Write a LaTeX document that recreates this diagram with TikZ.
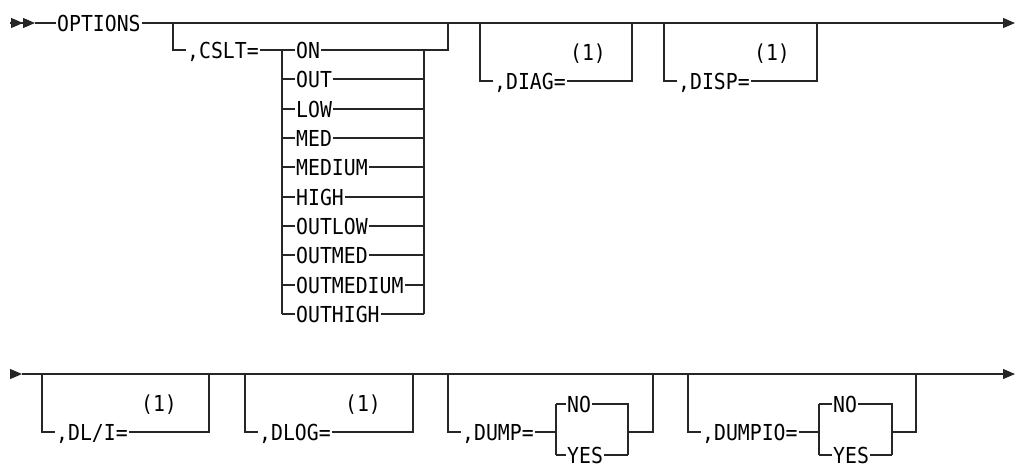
\documentclass[tikz,border=0pt]{standalone}
\usepackage{fontspec}
\setmonofont[FakeStretch=0.9]{DejaVu Sans Mono}
\usetikzlibrary{arrows.meta}

\tikzset{
  kw/.style={inner sep=1pt, text height=16pt, text depth=0pt,
    font=\ttfamily\fontsize{22}{26}\selectfont},
  rail/.style={line width=1.2pt, draw=black!85},
  tip/.style={-{Triangle[length=12pt,width=10pt]}},
}

\begin{document}
\begin{tikzpicture}[x=1pt,y=-1pt]
\useasboundingbox (0,0) rectangle (1017,467);

\coordinate (s1) at (10,23);
\coordinate (s1b) at (35,23);
\coordinate (z1) at (1015,23);

\node[kw,anchor=west] (opts) at (56,23) {OPTIONS};

\node[kw,anchor=west] (cslt) at (186,50) {,CSLT=};
\node[kw,anchor=west] (on) at (295,50) {ON};
\node[kw,anchor=west] (out) at (295,79) {OUT};
\node[kw,anchor=west] (low) at (295,109) {LOW};
\node[kw,anchor=west] (med) at (295,138) {MED};
\node[kw,anchor=west] (medium) at (295,167) {MEDIUM};
\node[kw,anchor=west] (high) at (295,197) {HIGH};
\node[kw,anchor=west] (outlow) at (295,226) {OUTLOW};
\node[kw,anchor=west] (outmed) at (295,255) {OUTMED};
\node[kw,anchor=west] (outmedium) at (295,285) {OUTMEDIUM};
\node[kw,anchor=west] (outhigh) at (295,314) {OUTHIGH};

\coordinate (a1) at (173,23);
\coordinate (a2) at (173,50);
\coordinate (b1) at (282,50);
\coordinate (b2) at (282,314);
\coordinate (c1) at (424,50);
\coordinate (c2) at (424,314);
\coordinate (d1) at (448,50);
\coordinate (d2) at (448,23);

\node[kw,anchor=west] (diag) at (493,81) {,DIAG=};
\node[kw] (diagnote) at (588,52) {(1)};
\coordinate (e1) at (480,23);
\coordinate (e2) at (480,81);
\coordinate (f1) at (632,81);
\coordinate (f2) at (632,23);

\node[kw,anchor=west] (disp) at (677,81) {,DISP=};
\node[kw] (dispnote) at (772,52) {(1)};
\coordinate (g1) at (664,23);
\coordinate (g2) at (664,81);
\coordinate (h1) at (817,81);
\coordinate (h2) at (817,23);

\draw[rail,-{Triangle[length=12pt,width=10pt]Triangle[length=12pt,width=10pt]}] (s1) -- (s1b);
\draw[rail] (s1b) -- (opts);
\draw[rail,tip] (opts) -- (z1);

\draw[rail] (a1) -- (a2) -- (cslt) -- (b1) -- (b2);
\draw[rail] (on -| b1) -- (on) -- (on -| c1);
\draw[rail] (out -| b1) -- (out) -- (out -| c1);
\draw[rail] (low -| b1) -- (low) -- (low -| c1);
\draw[rail] (med -| b1) -- (med) -- (med -| c1);
\draw[rail] (medium -| b1) -- (medium) -- (medium -| c1);
\draw[rail] (high -| b1) -- (high) -- (high -| c1);
\draw[rail] (outlow -| b1) -- (outlow) -- (outlow -| c1);
\draw[rail] (outmed -| b1) -- (outmed) -- (outmed -| c1);
\draw[rail] (outmedium -| b1) -- (outmedium) -- (outmedium -| c1);
\draw[rail] (outhigh -| b1) -- (outhigh) -- (outhigh -| c1);
\draw[rail] (c2) -- (c1) -- (d1) -- (d2);

\draw[rail] (e1) -- (e2) -- (diag) -- (f1) -- (f2);
\draw[rail] (g1) -- (g2) -- (disp) -- (h1) -- (h2);

\coordinate (r0) at (10,374);
\coordinate (r0b) at (22,374);
\coordinate (z2) at (1015,374);

\node[kw,anchor=west] (dli) at (55,432) {,DL/I=};
\node[kw] (dlinote) at (159,403) {(1)};
\coordinate (i1) at (42,374);
\coordinate (i2) at (42,432);
\coordinate (j1) at (209,432);
\coordinate (j2) at (209,374);

\node[kw,anchor=west] (dlog) at (258,432) {,DLOG=};
\node[kw] (dlognote) at (363,403) {(1)};
\coordinate (k1) at (245,374);
\coordinate (k2) at (245,432);
\coordinate (l1) at (413,432);
\coordinate (l2) at (413,374);

\node[kw,anchor=west] (dump) at (461,432) {,DUMP=};
\node[kw,anchor=west] (dumpno) at (566,404) {NO};
\node[kw,anchor=west] (dumpyes) at (566,455) {YES};
\coordinate (m1) at (448,374);
\coordinate (m2) at (448,432);
\coordinate (sp1) at (556,432);
\coordinate (sp2) at (628,432);
\coordinate (n1) at (653,432);
\coordinate (n2) at (653,374);

\node[kw,anchor=west] (dumpio) at (701,432) {,DUMPIO=};
\node[kw,anchor=west] (dumpiono) at (832,404) {NO};
\node[kw,anchor=west] (dumpioyes) at (832,455) {YES};
\coordinate (o1) at (688,374);
\coordinate (o2) at (688,432);
\coordinate (sp3) at (819,432);
\coordinate (sp4) at (892,432);
\coordinate (p1) at (916,432);
\coordinate (p2) at (916,374);

\draw[rail,tip] (r0) -- (r0b);
\draw[rail,tip] (r0b) -- (z2);

\draw[rail] (i1) -- (i2) -- (dli) -- (j1) -- (j2);
\draw[rail] (k1) -- (k2) -- (dlog) -- (l1) -- (l2);

\draw[rail] (m1) -- (m2) -- (dump) -- (sp1);
\draw[rail] (dumpno -| sp1) -- (dumpyes -| sp1);
\draw[rail] (dumpno -| sp1) -- (dumpno) -- (dumpno -| sp2) -- (dumpyes -| sp2);
\draw[rail] (dumpyes -| sp1) -- (dumpyes) -- (dumpyes -| sp2);
\draw[rail] (sp2) -- (n1) -- (n2);

\draw[rail] (o1) -- (o2) -- (dumpio) -- (sp3);
\draw[rail] (dumpiono -| sp3) -- (dumpioyes -| sp3);
\draw[rail] (dumpiono -| sp3) -- (dumpiono) -- (dumpiono -| sp4) -- (dumpioyes -| sp4);
\draw[rail] (dumpioyes -| sp3) -- (dumpioyes) -- (dumpioyes -| sp4);
\draw[rail] (sp4) -- (p1) -- (p2);

\end{tikzpicture}
\end{document}
